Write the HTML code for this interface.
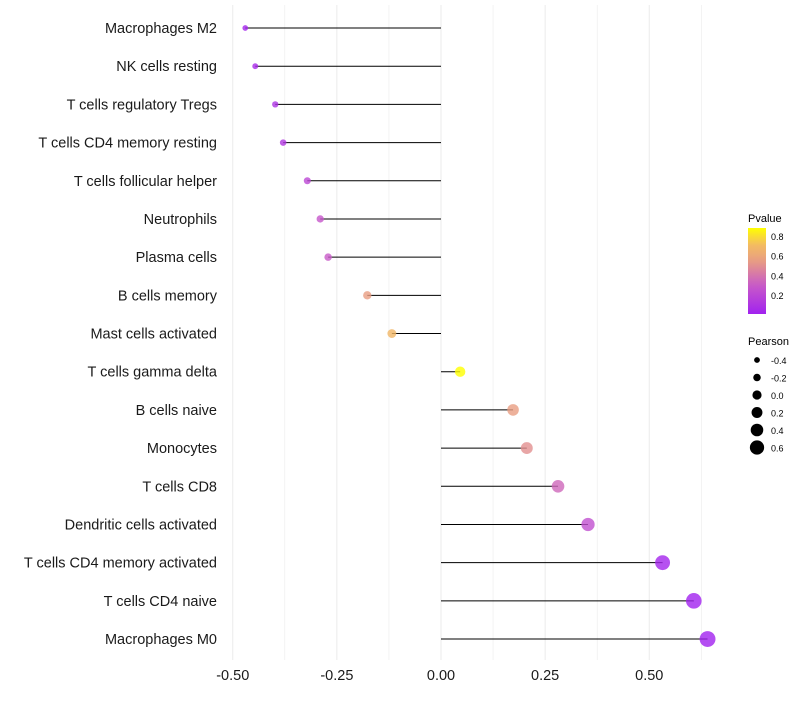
<!DOCTYPE html>
<html><head><meta charset="utf-8"><style>
body{margin:0;background:#fff;font-family:"Liberation Sans",sans-serif}
</style></head><body>
<svg id="chart" width="800" height="700" xmlns="http://www.w3.org/2000/svg" font-family="Liberation Sans, sans-serif">
<g id="grid"></g><g id="marks"></g><g id="ylabels"></g><g id="xlabels"></g>
<g id="legend"></g>
</svg>
<script>
const categories=["Macrophages M2","NK cells resting","T cells regulatory  Tregs","T cells CD4 memory resting","T cells follicular helper","Neutrophils","Plasma cells","B cells memory","Mast cells activated","T cells gamma delta","B cells naive","Monocytes","T cells CD8","Dendritic cells activated","T cells CD4 memory activated","T cells CD4 naive","Macrophages M0"];
const pearson=[-0.47,-0.446,-0.398,-0.379,-0.321,-0.29,-0.271,-0.177,-0.118,0.046,0.173,0.206,0.281,0.353,0.532,0.607,0.64];
const pvalues=[0.03,0.05,0.1,0.12,0.2,0.28,0.3,0.55,0.68,0.88,0.55,0.5,0.35,0.25,0.03,0.01,0.01];
const xTicks=[-0.5,-0.25,0,0.25,0.5];
const xTickLabels=["-0.50","-0.25","0.00","0.25","0.50"];
const colorTicks=[0.2,0.4,0.6,0.8];
const sizeTicks=[-0.4,-0.2,0,0.2,0.4,0.6];
const NS="http://www.w3.org/2000/svg";
const x=v=>441+v*416.5;
const y=i=>28+i*38.19;
const r=v=>Math.max(2,5+4.6*v);
const stops=[[0,[160,32,240]],[0.3,[200,90,200]],[0.55,[232,158,130]],[0.72,[244,190,95]],[0.88,[255,255,0]]];
function col(p){for(let k=1;k<stops.length;k++){if(p<=stops[k][0]||k==stops.length-1){const a=stops[k-1],b=stops[k];let t=Math.min(1,Math.max(0,(p-a[0])/(b[0]-a[0])));return 'rgb('+a[1].map((c,j)=>Math.round(c+(b[1][j]-c)*t)).join(',')+')';}}}
function mk(tag,at,parent,txt){const e=document.createElementNS(NS,tag);for(const k in at)e.setAttribute(k,at[k]);if(txt!==undefined)e.textContent=txt;document.getElementById(parent).appendChild(e);return e;}
for(let v=-0.5;v<=0.63;v+=0.125){const e=mk('line',{x1:x(v),x2:x(v),y1:5,y2:660,stroke:'#ebebeb','stroke-width':Math.abs(v*4-Math.round(v*4))<1e-6?1:0.6},'grid');

}
categories.forEach((c,i)=>{
const l=mk('line',{x1:x(0),x2:x(pearson[i]),y1:y(i),y2:y(i),stroke:'#000','stroke-width':1},'marks');


const d=mk('circle',{cx:x(pearson[i]),cy:y(i),r:r(pearson[i]),fill:col(pvalues[i]),'fill-opacity':0.8},'marks');


const t=mk('text',{x:217,y:y(i)+5,'text-anchor':'end','font-size':14.5,fill:'#1a1a1a'},'ylabels',c);


});
xTicks.forEach((v,i)=>{const t=mk('text',{x:x(v),y:680,'text-anchor':'middle','font-size':14.5,fill:'#1a1a1a'},'xlabels',xTickLabels[i]);

});
const lt=mk('text',{x:748,y:222,'font-size':11},'legend','Pvalue');


const defs=mk('defs',{},'legend');
const g=document.createElementNS(NS,'linearGradient');g.setAttribute('id','pg');g.setAttribute('x1','0');g.setAttribute('y1','1');g.setAttribute('x2','0');g.setAttribute('y2','0');defs.appendChild(g);
for(let k=0;k<=10;k++){const s=document.createElementNS(NS,'stop');s.setAttribute('offset',k/10);s.setAttribute('stop-color',col(0.01+0.87*k/10));g.appendChild(s);}
const cb=mk('rect',{x:748,y:228,width:18,height:86,fill:'url(#pg)'},'legend');


const cy=p=>314-(p-0.01)/0.87*86;
colorTicks.forEach(p=>{const t=mk('text',{x:771,y:cy(p)+4,'font-size':9},'legend',p.toFixed(1));

});
const st=mk('text',{x:748,y:345,'font-size':11},'legend','Pearson');


sizeTicks.forEach((v,i)=>{const yy=360+i*17.5;
const c=mk('circle',{cx:757,cy:yy,r:r(v)*0.92,fill:'#000'},'legend');


const t=mk('text',{x:771,y:yy+4,'font-size':9},'legend',v.toFixed(1));

});
</script>
</body></html>
